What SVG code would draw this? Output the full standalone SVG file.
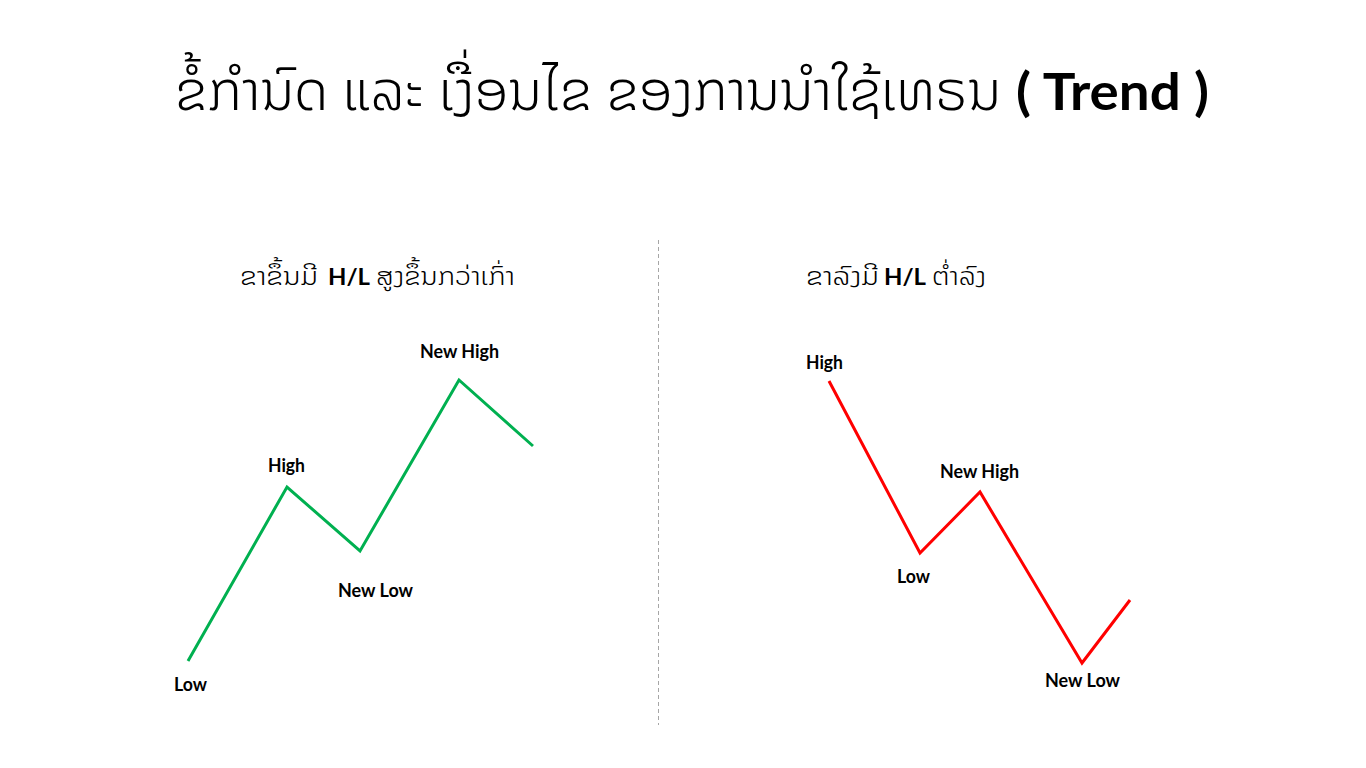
<svg xmlns="http://www.w3.org/2000/svg" width="1366" height="768" viewBox="0 0 1366 768">
<style>
.lao{font-family:"Noto Sans Lao UI","Noto Sans Lao","Noto Sans","DejaVu Sans",sans-serif;font-weight:300;fill:#000}
.b{font-family:Lato,"Open Sans","Liberation Sans",sans-serif;font-weight:bold;fill:#000}
.lbl{font-family:Lato,"Open Sans","Liberation Sans",sans-serif;font-weight:bold;font-size:18px;fill:#000}
.up{fill:none;stroke:#00B050;stroke-width:3;stroke-linejoin:miter}
.down{fill:none;stroke:#FF0000;stroke-width:3;stroke-linejoin:miter}
</style>
<rect width="1366" height="768" fill="#fff"/>
<g id="title">
<text x="175" y="110" class="lao" font-size="58" textLength="826" lengthAdjust="spacingAndGlyphs">ຂໍ້ກຳນົດ ແລະ ເງື່ອນໄຂ ຂອງການນຳໃຊ້ເທຣນ</text>
<text x="1016" y="110" class="b" font-size="52" textLength="193" lengthAdjust="spacingAndGlyphs">( Trend )</text>
</g>
<line id="divider" x1="658.5" y1="240" x2="658.5" y2="725" stroke="#a6a6a6" stroke-width="1" stroke-dasharray="4,3"/>
<g id="uptrend-heading">
<text x="240" y="285" class="lao" font-size="27" textLength="78" lengthAdjust="spacingAndGlyphs">ຂາຂຶ້ນມີ</text>
<text x="328" y="285" class="b" font-size="22" textLength="42" lengthAdjust="spacingAndGlyphs">H/L</text>
<text x="376" y="285" class="lao" font-size="27" textLength="139" lengthAdjust="spacingAndGlyphs">ສູງຂຶ້ນກວ່າເກົ່າ</text>
</g>
<g id="downtrend-heading">
<text x="806" y="285" class="lao" font-size="27" textLength="73" lengthAdjust="spacingAndGlyphs">ຂາລົງມີ</text>
<text x="884" y="285" class="b" font-size="22" textLength="42" lengthAdjust="spacingAndGlyphs">H/L</text>
<text x="932" y="285" class="lao" font-size="27" textLength="54" lengthAdjust="spacingAndGlyphs">ຕ່ຳລົງ</text>
</g>
<g id="connectors">
<polyline class="up" points="188,661 287,487 360,551 459,380 533,446"/>
<polyline class="down" points="829,381 920,553 980,492 1082,663 1130,600"/>
</g>
<g id="up-low"><text class="lbl" x="174" y="691" textLength="33" lengthAdjust="spacingAndGlyphs">Low</text></g>
<g id="up-high"><text class="lbl" x="268" y="472" textLength="37" lengthAdjust="spacingAndGlyphs">High</text></g>
<g id="up-newlow"><text class="lbl" x="338" y="597" textLength="75" lengthAdjust="spacingAndGlyphs">New Low</text></g>
<g id="up-newhigh"><text class="lbl" x="420" y="358" textLength="79" lengthAdjust="spacingAndGlyphs">New High</text></g>
<g id="down-high"><text class="lbl" x="806" y="369" textLength="37" lengthAdjust="spacingAndGlyphs">High</text></g>
<g id="down-low"><text class="lbl" x="897" y="583" textLength="33" lengthAdjust="spacingAndGlyphs">Low</text></g>
<g id="down-newhigh"><text class="lbl" x="940" y="478" textLength="79" lengthAdjust="spacingAndGlyphs">New High</text></g>
<g id="down-newlow"><text class="lbl" x="1045" y="687" textLength="75" lengthAdjust="spacingAndGlyphs">New Low</text></g>
</svg>
